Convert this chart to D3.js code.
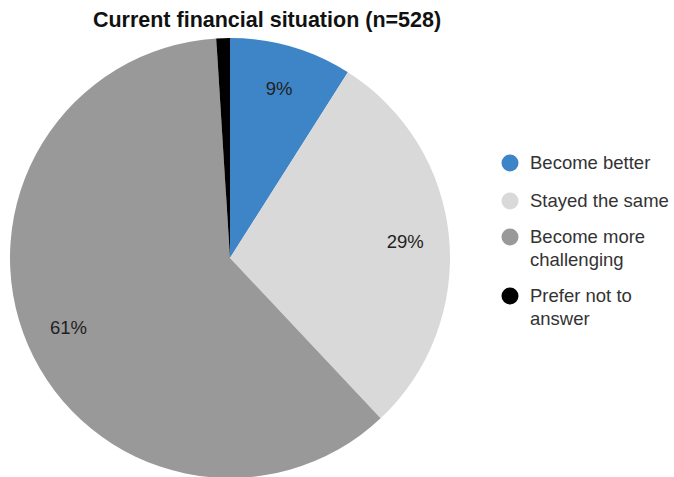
<!DOCTYPE html>
<html lang="en">
	<head>
		<meta charset="utf-8">
		<title>Current financial situation</title>
		<script src="https://d3js.org/d3.v7.min.js"></script>
		<style type="text/css">
			body {
				margin: 0;
				background: #fff;
			}
			text {
				font-family: "Liberation Sans", Arial, sans-serif;
			}
		</style>
	</head>
	<body>
		<script type="text/javascript">

			var categories = ["Become better", "Stayed the same", "Become more challenging", "Prefer not to answer"];
			var values = [9, 29, 61, 1];
			var legendLines = [["Become better"], ["Stayed the same"], ["Become more", "challenging"], ["Prefer not to", "answer"]];
			var colors = ["#3d85c6", "#d9d9d9", "#999999", "#000000"];

			var w = 674;
			var h = 477;
			var cx = 230, cy = 258, r = 220;

			var svg = d3.select("body")
						.append("svg")
						.attr("width", w)
						.attr("height", h);

			svg.append("text")
				.attr("x", 267)
				.attr("y", 27)
				.attr("text-anchor", "middle")
				.style("font-size", "21.5px")
				.style("font-weight", "bold")
				.attr("fill", "#111")
				.text("Current financial situation (n=528)");

			var color = d3.scaleOrdinal()
							.domain(categories)
							.range(colors);

			var pie = d3.pie().sort(null);
			var arcs = pie(values);

			var arc = d3.arc().innerRadius(0).outerRadius(r);
			var labelArc = d3.arc().innerRadius(r * 0.8).outerRadius(r * 0.8);

			var g = svg.append("g")
						.attr("transform", "translate(" + cx + "," + cy + ")");

			g.selectAll("path")
				.data(arcs)
				.enter()
				.append("path")
				.attr("d", arc)
				.attr("fill", function(d, i) { return color(categories[i]); });

			// labels, skip the 1% slice
			g.selectAll("text.lbl")
				.data(arcs.filter(function(d) { return d.value > 1; }))
				.enter()
				.append("text")
				.attr("class", "lbl")
				.attr("transform", function(d) { return "translate(" + labelArc.centroid(d) + ")"; })
				.attr("text-anchor", "middle")
				.attr("dy", "0.35em")
				.style("font-size", "18.5px")
				.attr("fill", "#222")
				.text(function(d) { return d.value + "%"; });

			var legendY = [163, 201, 237, 296];
			var legend = svg.append("g");

			legendLines.forEach(function(lines, i) {
				legend.append("circle")
					.attr("cx", 510)
					.attr("cy", legendY[i])
					.attr("r", 8.5)
					.attr("fill", colors[i]);
				var t = legend.append("text")
					.attr("x", 530)
					.attr("y", legendY[i])
					.style("font-size", "18.5px")
					.attr("fill", "#333");
				lines.forEach(function(line, j) {
					t.append("tspan")
						.attr("x", 530)
						.attr("dy", j === 0 ? "0.35em" : "23px")
						.text(line);
				});
			});

		</script>
	</body>
</html>
